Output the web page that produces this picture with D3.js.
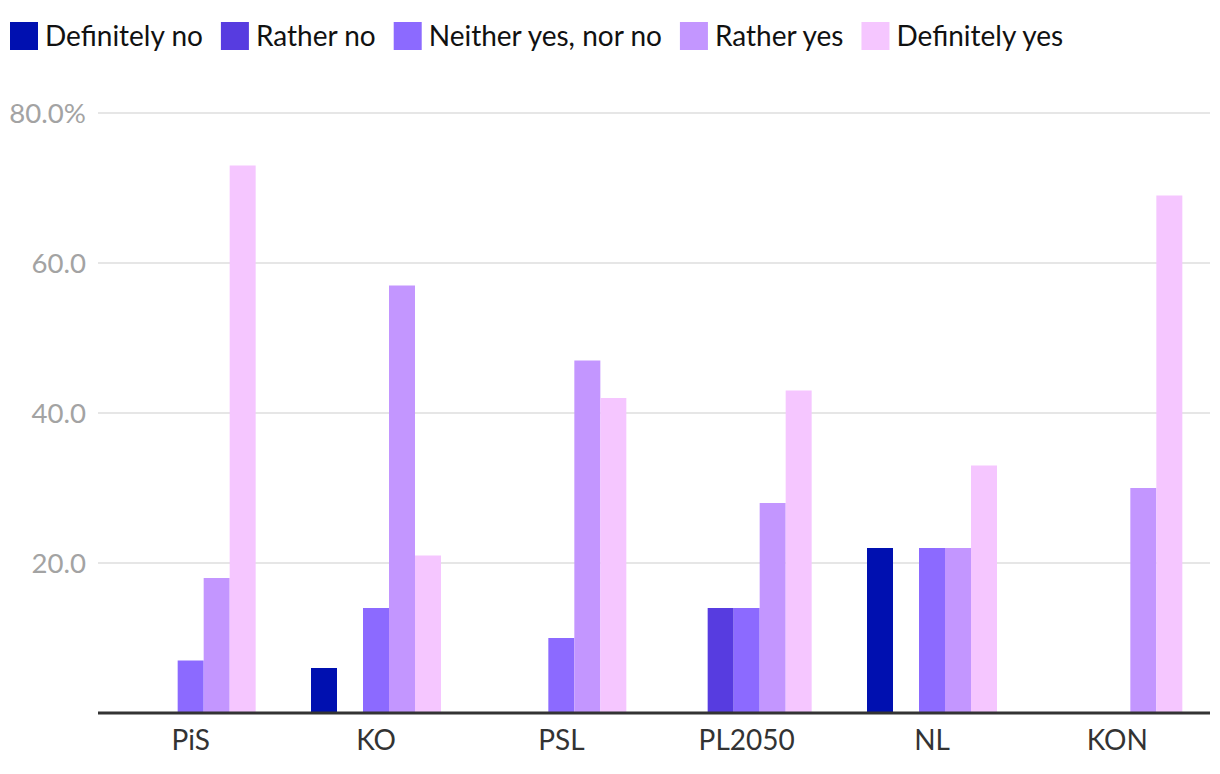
<!DOCTYPE html>
<html><head><meta charset="utf-8">
<script src="https://cdn.jsdelivr.net/npm/d3@7"></script>
<style>body{margin:0;background:#fff}svg{display:block;font-family:Lato,sans-serif}</style>
</head><body><svg id="c" width="1220" height="774"></svg>
<script>
const categories = ["PiS","KO","PSL","PL2050","NL","KON"];
const seriesNames = ["Definitely no","Rather no","Neither yes, nor no","Rather yes","Definitely yes"];
const colors = ["#0010b0","#573ce0","#8c6aff","#c396ff","#f5c6ff"];
const definitelyNo = [0,6,0,0,22,0];
const ratherNo = [0,0,0,14,0,0];
const neither = [7,14,10,14,22,0];
const ratherYes = [18,57,47,28,22,30];
const definitelyYes = [73,21,42,43,33,69];
const yTicks = [20,40,60,80];
const seriesValues = [definitelyNo,ratherNo,neither,ratherYes,definitelyYes];

(function(){
const svg = d3.select("#c");
const mLeft=98, mRight=1210, mTop=113, mBottom=713;
const x0 = d3.scaleBand().domain(categories).range([mLeft,mRight]).padding(0);
const x1 = d3.scaleBand().domain(seriesNames).range([0,x0.bandwidth()]).paddingInner(0).paddingOuter(1.064);
const y = d3.scaleLinear().domain([0,80]).range([mBottom,mTop]);

// grid
const yAxis = d3.axisLeft(y).tickValues(yTicks).tickSize(0).tickPadding(12)
  .tickFormat(d => d===80 ? d3.format(".1f")(d)+"%" : d3.format(".1f")(d));
const gy = svg.append("g").attr("transform",`translate(${mLeft-1},0)`).call(yAxis);
gy.select(".domain").remove();
gy.selectAll("text").attr("fill","#a3a3a3").style("font-size","27.6px").style("font-family","Lato,sans-serif").attr("x",-11).attr("dy","0.35em");
svg.append("g").selectAll("line").data(yTicks).join("line")
  .attr("x1",mLeft).attr("x2",mRight).attr("y1",d=>y(d)).attr("y2",d=>y(d))
  .attr("stroke","#e6e6e6").attr("stroke-width",2);

// bars
const g = svg.append("g");
categories.forEach((c,ci)=>{
  seriesNames.forEach((s,si)=>{
    const v = seriesValues[si][ci];
    if(v<=0) return;
    g.append("rect").attr("x",x0(c)+x1(s)).attr("width",x1.bandwidth())
      .attr("y",y(v)).attr("height",y(0)-y(v)).attr("fill",colors[si]);
  });
});

// x axis
svg.append("line").attr("x1",mLeft).attr("x2",mRight).attr("y1",mBottom).attr("y2",mBottom)
  .attr("stroke","#333").attr("stroke-width",3);
const xAxis = d3.axisBottom(x0).tickSize(0).tickPadding(17);
const gx = svg.append("g").attr("transform",`translate(0,${mBottom})`).call(xAxis);
gx.select(".domain").remove();
gx.selectAll("text").attr("fill","#333").style("font-size","28px").style("font-family","Lato,sans-serif");

// legend
const lg = svg.append("g");
let lx = 10;
seriesNames.forEach((s,i)=>{
  lg.append("rect").attr("x",lx).attr("y",22).attr("width",28).attr("height",28).attr("fill",colors[i]);
  const t = lg.append("text").attr("x",lx+35).attr("y",36).attr("dy","0.35em")
    .attr("fill","#111").style("font-size","28px").text(s);
  lx += 35 + t.node().getComputedTextLength() + 18;
});
})();
</script></body></html>
